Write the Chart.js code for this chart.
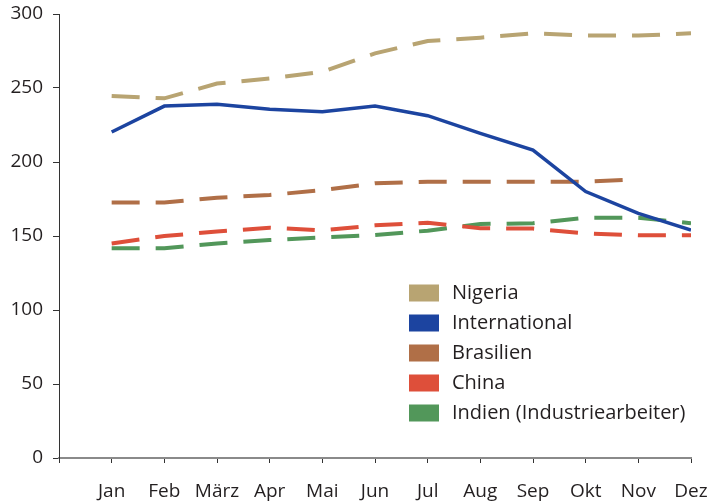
<!DOCTYPE html>
<html>
<head>
<meta charset="utf-8">
<script src="https://cdn.jsdelivr.net/npm/chart.js@4"></script>
<style>
  html, body { margin: 0; padding: 0; background: #fff; }
  #wrap { width: 725px; height: 504px; }
</style>
</head>
<body>
<div id="wrap"><canvas id="chart" width="725" height="504"></canvas></div>
<script>
const months = ['Jan', 'Feb', 'März', 'Apr', 'Mai', 'Jun', 'Jul', 'Aug', 'Sep', 'Okt', 'Nov', 'Dez'];
const yTicks = [0, 50, 100, 150, 200, 250, 300];

const nigeria = [244.6, 243, 253, 256.5, 261, 273.4, 281.8, 284, 286.9, 285.4, 285.4, 287];
const international = [220.3, 237.8, 239, 235.6, 234, 237.8, 231.3, 219.4, 208.1, 180, 165.3, 154];
const brasilien = [172.7, 172.7, 175.9, 177.7, 181, 185.6, 186.7, 186.7, 186.7, 186.7, 188.3, null];
const china = [145, 150, 153, 155.6, 153.8, 157.2, 159, 155.2, 155, 151.8, 150.5, 150.5];
const indien = [141.7, 141.7, 145, 147.3, 149, 150.7, 153.6, 158.1, 158.6, 162.4, 162.4, 158.6];

const FONT = '"Open Sans", "Noto Sans", sans-serif';
const TEXT = '#231f20';

function points(vals) {
    return vals.map((v, i) => ({ x: i, y: v }));
}

function dashed(label, vals, color) {
    return {
        label: label,
        data: points(vals),
        borderColor: color,
        backgroundColor: color,
        borderWidth: 4,
        borderDash: [28, 16],
        pointRadius: 0,
        tension: 0,
        spanGaps: false
    };
}

// legend drawn inside the plot area
const insideLegend = {
    id: 'insideLegend',
    afterDraw(chart) {
        const ctx = chart.ctx;
        ctx.save();
        ctx.font = '20px ' + FONT;
        ctx.textBaseline = 'middle';
        chart.data.datasets.forEach((ds, i) => {
            const y = 293 + i * 30;
            ctx.fillStyle = ds.borderColor;
            ctx.fillRect(409, y - 8.5, 30, 17);
            ctx.fillStyle = TEXT;
            ctx.fillText(ds.label, 452, y);
        });
        ctx.restore();
    }
};

const ctx = document.getElementById('chart').getContext('2d');
ctx.letterSpacing = '0.6px';
new Chart(ctx, {
    type: 'line',
    data: {
        datasets: [
            dashed('Nigeria', nigeria, '#b8a472'),
            {
                label: 'International',
                data: points(international),
                borderColor: '#1c44a0',
                backgroundColor: '#1c44a0',
                borderWidth: 3.5,
                pointRadius: 0,
                tension: 0
            },
            dashed('Brasilien', brasilien, '#b06f47'),
            dashed('China', china, '#de4f3a'),
            dashed('Indien (Industriearbeiter)', indien, '#52975a')
        ]
    },
    options: {
        responsive: false,
        animation: false,
        layout: { padding: { top: 14, right: 34, left: 0, bottom: 0 } },
        plugins: {
            legend: { display: false },
            tooltip: { enabled: false }
        },
        scales: {
            x: {
                type: 'linear',
                min: -1,
                max: 11,
                afterBuildTicks(scale) {
                    scale.ticks = [-1].concat(months.map((m, i) => i)).map(v => ({ value: v }));
                },
                afterFit(scale) { scale.height = 46; },
                ticks: {
                    autoSkip: false,
                    maxRotation: 0,
                    padding: 17,
                    color: TEXT,
                    font: { family: FONT, size: 19 },
                    callback: v => months[v] || ''
                },
                grid: {
                    drawOnChartArea: false,
                    color: '#333',
                    tickLength: 5
                },
                border: { color: '#8a8a8a', width: 2 }
            },
            y: {
                min: 0,
                max: 300,
                afterBuildTicks(scale) {
                    scale.ticks = yTicks.map(v => ({ value: v }));
                },
                afterFit(scale) {
                    scale.width = 59;
                    scale.paddingTop = 0;
                    scale.paddingBottom = 0;
                },
                ticks: {
                    padding: 10,
                    color: TEXT,
                    font: { family: FONT, size: 19 }
                },
                grid: {
                    drawOnChartArea: false,
                    color: '#333',
                    tickLength: 6
                },
                border: { color: '#333', width: 1 }
            }
        }
    },
    plugins: [insideLegend]
});
</script>
</body>
</html>
